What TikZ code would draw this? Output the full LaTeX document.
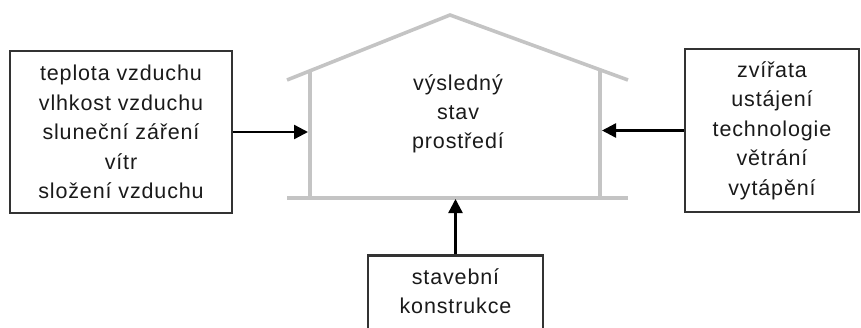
\documentclass[tikz,border=0pt]{standalone}
\usepackage{fontspec}
\setmainfont{Liberation Sans}[LetterSpace=4]
\usetikzlibrary{arrows.meta}
\definecolor{wallgray}{HTML}{C4C4C4}
\definecolor{boxline}{HTML}{333333}
\definecolor{txt}{HTML}{1A1A1A}
\begin{document}
\begin{tikzpicture}[x=1pt,y=-1pt,
  infobox/.style={draw=boxline,line width=2.6pt,fill=white,inner sep=0pt,align=center,
    font=\fontsize{21.5}{29.5}\selectfont,text=txt},
  wall/.style={draw=wallgray,line width=3.6pt},
  inarrow/.style={draw=black,line width=2.4pt,-{Triangle[length=14pt,width=14pt]}},
  label/.style={align=center,font=\fontsize{21.5}{29}\selectfont,text=txt,inner sep=0pt}]
\useasboundingbox (0,0) rectangle (861,327);
\clip (0,0) rectangle (861,327);
% house
\coordinate (apex) at (450,15);
\coordinate (roofL) at (287,80);
\coordinate (roofR) at (628,80);
\coordinate (eaveL) at (310,70);
\coordinate (eaveR) at (600,70);
\coordinate (floorL) at (287,198);
\coordinate (floorR) at (628,198);
\coordinate (baseL) at (310,198);
\coordinate (baseR) at (600,198);
\draw[wall] (roofL) -- (apex) -- (roofR);
\draw[wall] (eaveL) -- (baseL);
\draw[wall] (eaveR) -- (baseR);
\draw[wall] (floorL) -- (floorR);
\node[label] (res) at (458,114) {výsledný\\stav\\prostředí};
% boxes
\node[infobox,minimum width=222pt,minimum height=162pt] (lb) at (121,132)
  {teplota vzduchu\\vlhkost vzduchu\\sluneční záření\\vítr\\složení vzduchu};
\node[infobox,minimum width=174pt,minimum height=163pt] (rb) at (772,130.5)
  {zvířata\\ustájení\\technologie\\větrání\\vytápění};
\node[infobox,minimum width=175pt,minimum height=120pt,anchor=north] (bb) at (455.5,254) {};
\node[label] (bt) at (455.5,291) {stavební\\konstrukce};
% arrows
\coordinate (tipL) at (308,132);
\coordinate (tipR) at (602,130.5);
\coordinate (tipB) at (455.5,199);
\draw[inarrow] (lb.east) -- (tipL);
\draw[inarrow] (rb.west) -- (tipR);
\draw[inarrow] (bb.north) -- (tipB);
\end{tikzpicture}
\end{document}
